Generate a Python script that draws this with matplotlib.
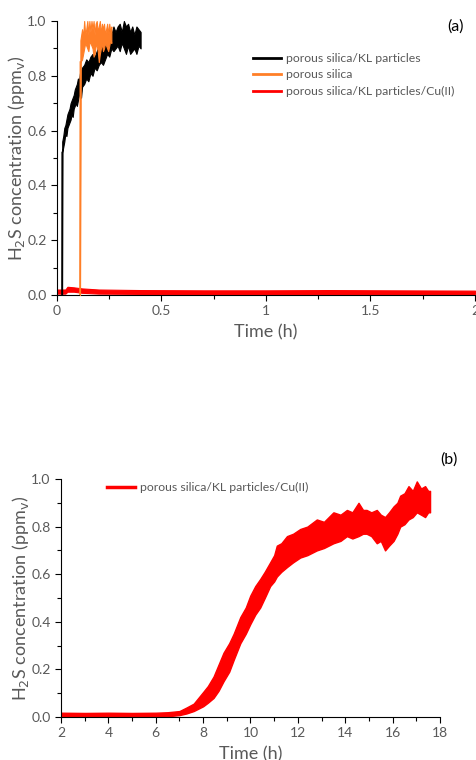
import numpy as np
import matplotlib.pyplot as plt
from matplotlib.ticker import MultipleLocator, FormatStrFormatter

plt.rcParams['font.family'] = ['Lato', 'DejaVu Sans']

GREY = '#595959'

# ---- panel (a) data: time (h), lower / upper envelope of the noisy traces ----
black_t = [0.024, 0.025, 0.03, 0.035, 0.04, 0.045, 0.05, 0.055, 0.06, 0.065,
           0.07, 0.075, 0.08, 0.085, 0.09, 0.095, 0.10, 0.105, 0.11, 0.115,
           0.12, 0.13, 0.14, 0.15, 0.16, 0.17, 0.18, 0.19, 0.20, 0.21,
           0.22, 0.23, 0.24, 0.25, 0.26, 0.27, 0.28, 0.29, 0.30, 0.31, 0.32,
           0.33, 0.34, 0.35, 0.36, 0.37, 0.38, 0.39, 0.40]
black_lo = [0.00, 0.52, 0.54, 0.56, 0.59, 0.58, 0.61, 0.62, 0.63, 0.64,
            0.66, 0.65, 0.68, 0.69, 0.70, 0.69, 0.71, 0.73, 0.73, 0.72,
            0.76, 0.77, 0.79, 0.78, 0.81, 0.80, 0.83, 0.82, 0.84, 0.85,
            0.84, 0.86, 0.88, 0.87, 0.90, 0.89, 0.90, 0.91, 0.89, 0.92, 0.90,
            0.88, 0.91, 0.88, 0.89, 0.90, 0.88, 0.91, 0.90]
black_hi = [0.00, 0.56, 0.58, 0.61, 0.62, 0.64, 0.66, 0.67, 0.68, 0.70,
            0.71, 0.72, 0.73, 0.75, 0.76, 0.77, 0.79, 0.78, 0.81, 0.82,
            0.83, 0.84, 0.86, 0.85, 0.87, 0.88, 0.87, 0.89, 0.91, 0.90,
            0.93, 0.94, 0.92, 0.97, 0.95, 0.98, 0.96, 0.98, 0.99, 0.96, 1.00,
            0.98, 0.99, 0.96, 0.98, 0.95, 0.98, 0.97, 0.96]

orange_t = [0.110, 0.112, 0.12, 0.125, 0.13, 0.135, 0.14, 0.145, 0.15, 0.155,
            0.16, 0.165, 0.17, 0.175, 0.18, 0.185, 0.19, 0.195, 0.20, 0.205,
            0.21, 0.215, 0.22, 0.225, 0.23, 0.235, 0.24, 0.245, 0.25, 0.255, 0.26]
orange_lo = [0.00, 0.85, 0.86, 0.88, 0.90, 0.92, 0.91, 0.90, 0.89, 0.92,
             0.92, 0.91, 0.90, 0.87, 0.88, 0.91, 0.91, 0.89, 0.85, 0.88,
             0.90, 0.92, 0.89, 0.90, 0.92, 0.91, 0.90, 0.89, 0.91, 0.93, 0.92]
orange_hi = [0.00, 0.93, 0.97, 0.94, 1.00, 0.95, 0.97, 1.00, 0.95, 1.00,
             0.96, 1.00, 0.97, 1.00, 0.95, 0.99, 1.00, 0.96, 0.98, 1.00,
             0.95, 0.99, 0.97, 0.99, 0.95, 0.97, 0.99, 0.95, 0.99, 0.96, 0.98]

red_a_t = [0.0, 0.04, 0.05, 0.08, 0.12, 0.2, 0.4, 0.7, 1.0, 1.3, 1.6, 2.0]
red_a_lo = [0.005, 0.005, 0.012, 0.012, 0.008, 0.005, 0.004, 0.004, 0.004, 0.004, 0.004, 0.004]
red_a_hi = [0.02, 0.02, 0.03, 0.028, 0.024, 0.02, 0.018, 0.017, 0.017, 0.018, 0.017, 0.016]

# ---- panel (b) data ----
red_b_t = [2.0, 3.0, 4.0, 5.0, 6.0, 6.5, 7.0, 7.3, 7.6, 8.0, 8.2, 8.44, 8.65,
           8.86, 9.1, 9.29, 9.57, 9.8, 9.99, 10.2, 10.41, 10.6, 10.83, 11.0,
           11.11, 11.3, 11.54, 11.8, 12.1, 12.4, 12.8, 13.1, 13.5, 13.8, 14.07,
           14.3, 14.56, 14.75, 14.9, 15.1, 15.33, 15.5, 15.68, 15.85, 16.04,
           16.2, 16.32, 16.5, 16.67, 16.85, 17.02, 17.2, 17.37, 17.5, 17.58]
red_b_lo = [0.0, 0.0, 0.0, 0.0, 0.0, 0.003, 0.008, 0.015, 0.025, 0.045, 0.06,
            0.08, 0.11, 0.15, 0.19, 0.24, 0.31, 0.35, 0.39, 0.43, 0.46, 0.50,
            0.55, 0.57, 0.59, 0.61, 0.63, 0.65, 0.67, 0.68, 0.70, 0.71, 0.73,
            0.74, 0.76, 0.75, 0.76, 0.77, 0.77, 0.76, 0.73, 0.74, 0.70, 0.72,
            0.74, 0.77, 0.80, 0.81, 0.83, 0.84, 0.86, 0.85, 0.84, 0.86, 0.86]
red_b_hi = [0.018, 0.017, 0.018, 0.017, 0.018, 0.02, 0.025, 0.04, 0.056,
            0.105, 0.13, 0.17, 0.22, 0.27, 0.31, 0.35, 0.42, 0.46, 0.51, 0.55,
            0.58, 0.61, 0.65, 0.68, 0.72, 0.73, 0.76, 0.77, 0.79, 0.80, 0.83,
            0.82, 0.86, 0.85, 0.87, 0.86, 0.90, 0.87, 0.87, 0.86, 0.87, 0.85,
            0.84, 0.86, 0.885, 0.90, 0.93, 0.94, 0.97, 0.95, 0.99, 0.96, 0.97,
            0.95, 0.95]

fig = plt.figure(figsize=(4.77, 7.6), dpi=100)

ax_a = fig.add_axes([57 / 477, 1 - 295 / 760, 418 / 477, 274 / 760])
ax_b = fig.add_axes([61 / 477, 1 - 717 / 760, 379 / 477, 238 / 760])


def style(ax):
    for side in ('top', 'right'):
        ax.spines[side].set_visible(False)
    for side in ('left', 'bottom'):
        ax.spines[side].set_color('black')
        ax.spines[side].set_linewidth(0.8)
    ax.tick_params(which='both', direction='out', colors='black',
                   labelcolor=GREY, labelsize=10, width=0.8)
    ax.tick_params(which='major', length=4)
    ax.tick_params(which='minor', length=3)
    ax.yaxis.set_major_locator(MultipleLocator(0.2))
    ax.yaxis.set_minor_locator(MultipleLocator(0.1))
    ax.yaxis.set_major_formatter(FormatStrFormatter('%.1f'))
    ax.set_ylim(0, 1.0)
    ax.set_ylabel('H$_2$S concentration (ppm$_\\mathrm{v}$)', color=GREY,
                  fontsize=13, labelpad=0)
    ax.set_xlabel('Time (h)', color=GREY, fontsize=13, labelpad=5)


# panel (a)
ax_a.fill_between(red_a_t, red_a_lo, red_a_hi, color='#ff0000', lw=0.8, zorder=1)
ax_a.fill_between(black_t, black_lo, black_hi, color='black', lw=0.8, zorder=2)
ax_a.fill_between(orange_t, orange_lo, orange_hi, color='#ff7f27', lw=0.8, zorder=3)
ax_a.plot([orange_t[0], orange_t[1]], [0, orange_lo[1]], color='#ff7f27', lw=1.2, zorder=3)
ax_a.plot([black_t[0], black_t[1]], [0, black_lo[1]], color='black', lw=1.2, zorder=2)
ax_a.set_xlim(0, 2)
ax_a.xaxis.set_major_locator(MultipleLocator(0.5))
ax_a.xaxis.set_minor_locator(MultipleLocator(0.25))
ax_a.xaxis.set_major_formatter(lambda v, p: f'{v:g}')
style(ax_a)

handles_a = [plt.Line2D([], [], color='black', lw=2),
             plt.Line2D([], [], color='#ff7f27', lw=2),
             plt.Line2D([], [], color='#ff0000', lw=2)]
fig.legend(handles_a, ['porous silica/KL particles', 'porous silica',
                       'porous silica/KL particles/Cu(II)'],
           loc='upper left', bbox_to_anchor=(253 / 477, 1 - 53 / 760),
           frameon=False, fontsize=8.8, labelcolor=GREY, handlelength=2.3,
           handletextpad=0.4, labelspacing=0.45, borderpad=0, borderaxespad=0)
fig.text(456 / 477, 1 - 27 / 760, '(a)', fontsize=11.5, ha='center', va='center')

# panel (b)
ax_b.fill_between(red_b_t, red_b_lo, red_b_hi, color='#ff0000', lw=1.0)
ax_b.set_xlim(2, 18)
ax_b.xaxis.set_major_locator(MultipleLocator(2))
ax_b.xaxis.set_minor_locator(MultipleLocator(1))
style(ax_b)

fig.legend([plt.Line2D([], [], color='#ff0000', lw=2.5)],
           ['porous silica/KL particles/Cu(II)'],
           loc='upper left', bbox_to_anchor=(107 / 477, 1 - 482 / 760),
           frameon=False, fontsize=8.8, labelcolor=GREY, handlelength=2.3,
           handletextpad=0.4, borderpad=0, borderaxespad=0)
fig.text(449 / 477, 1 - 460 / 760, '(b)', fontsize=11.5, ha='center', va='center')

fig.savefig('out.png', dpi=100)
